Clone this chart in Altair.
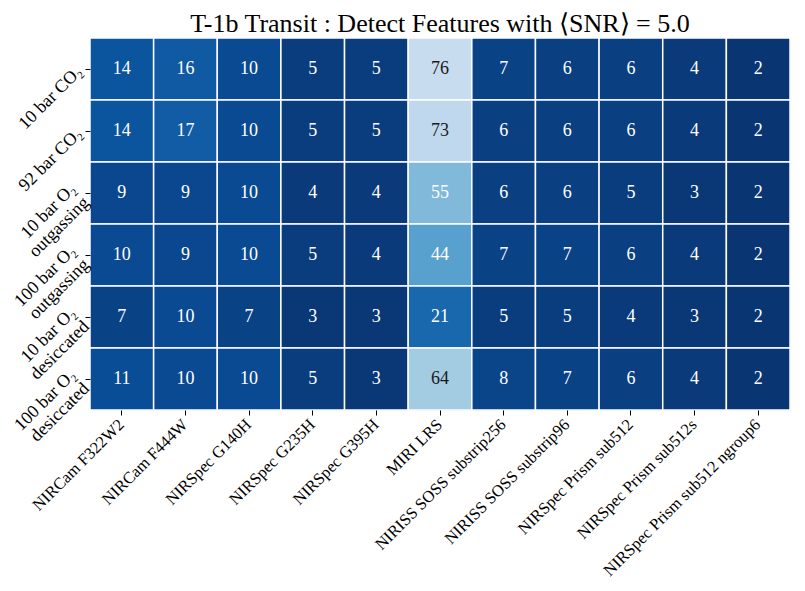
import altair as alt
import pandas as pd

rows = ["10 bar CO₂", "92 bar CO₂", "10 bar O₂|outgassing", "100 bar O₂|outgassing",
        "10 bar O₂|desiccated", "100 bar O₂|desiccated"]
cols = ["NIRCam F322W2", "NIRCam F444W", "NIRSpec G140H", "NIRSpec G235H", "NIRSpec G395H",
        "MIRI LRS", "NIRISS SOSS substrip256", "NIRISS SOSS substrip96", "NIRSpec Prism sub512",
        "NIRSpec Prism sub512s", "NIRSpec Prism sub512 ngroup6"]
values = [
    [14, 16, 10, 5, 5, 76, 7, 6, 6, 4, 2],
    [14, 17, 10, 5, 5, 73, 6, 6, 6, 4, 2],
    [9, 9, 10, 4, 4, 55, 6, 6, 5, 3, 2],
    [10, 9, 10, 5, 4, 44, 7, 7, 6, 4, 2],
    [7, 10, 7, 3, 3, 21, 5, 5, 4, 3, 2],
    [11, 10, 10, 5, 3, 64, 8, 7, 6, 4, 2],
]
blues_r = ["#08306b", "#08519c", "#2171b5", "#4292c6", "#6baed6",
           "#9ecae1", "#c6dbef", "#deebf7", "#f7fbff"]
stops = [0, 12.5, 25, 37.5, 50, 62.5, 75, 87.5, 100]

records = []
for r, row in zip(rows, values):
    for c, v in zip(cols, row):
        records.append({"row": r, "col": c, "v": v})
df = pd.DataFrame(records)

FONT = "Liberation Serif"

base = alt.Chart(df).encode(
    x=alt.X("col:N", sort=cols, title=None,
            axis=alt.Axis(labelAngle=-45, labelAlign="right", labelBaseline="top",
                          labelFontSize=16.5, labelFont=FONT, labelColor="black",
                          tickColor="black", tickSize=5, domain=False, labelPadding=1,
                          labelOffset=-6, labelLimit=400)),
    y=alt.Y("row:N", sort=rows, title=None,
            axis=alt.Axis(labelAngle=-45, labelAlign="right",
                          labelBaseline={"condition": {"test": "indexof(datum.value, '|') >= 0",
                                                       "value": "bottom"},
                                         "value": "middle"},
                          labelFontSize=18, labelFont=FONT, labelColor="black",
                          labelExpr="split(datum.value, '|')", labelLineHeight=19,
                          tickColor="black", tickSize=5, domain=False, labelPadding=6,
                          labelLimit=400)),
)

rect = base.mark_rect(stroke="white", strokeWidth=1.5).encode(
    color=alt.Color("v:Q", scale=alt.Scale(domain=stops, range=blues_r, clamp=True), legend=None)
)
text = base.mark_text(font=FONT, fontSize=18).encode(
    text="v:Q",
    color=alt.condition("datum.v > 60", alt.value("#1a1a1a"), alt.value("white")),
)

chart = (rect + text).properties(
    width=700, height=372,
    title=alt.TitleParams("T-1b Transit : Detect Features with ⟨SNR⟩ = 5.0",
                          font=FONT, fontSize=26, fontWeight="normal", color="black",
                          anchor="middle", offset=0),
    autosize=alt.AutoSizeParams(type="none"),
    padding={"left": 82, "top": 30, "right": 7, "bottom": 173},
).configure_view(stroke=None).configure(background="white")

chart.save("out.html", embed_options={"renderer": "svg", "actions": False})
